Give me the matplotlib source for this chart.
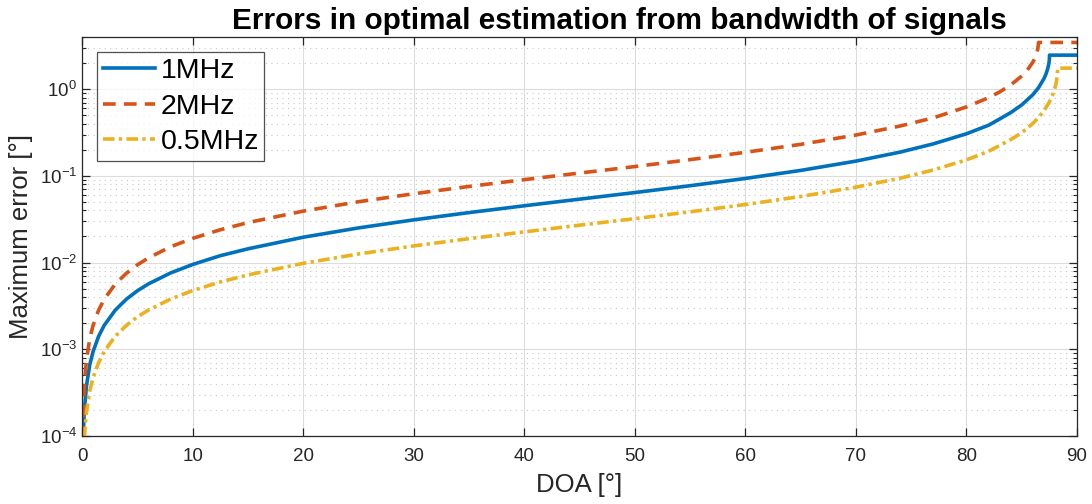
import math
import matplotlib
matplotlib.use("Agg")
import matplotlib.pyplot as plt
from matplotlib.ticker import LogLocator, FixedLocator, NullFormatter, FuncFormatter

# ---- data ----
doa_1mhz = [0.1, 0.2, 0.4, 0.7, 1, 1.5, 2, 3, 4, 5, 6, 8, 10, 12.5, 15, 20, 25, 30, 35,
            40, 45, 50, 55, 60, 65, 70, 74, 77, 80, 82, 83, 84, 85, 86, 86.5, 87, 87.2,
            87.35, 87.45, 87.5, 87.51, 90]
err_1mhz = [9.4e-5, 1.88e-4, 3.76e-4, 6.6e-4, 9.4e-4, 1.41e-3, 1.88e-3, 2.82e-3, 3.77e-3,
            4.72e-3, 5.67e-3, 7.58e-3, 9.5e-3, 0.0120, 0.0144, 0.0196, 0.0251, 0.0311,
            0.0377, 0.0452, 0.0539, 0.0642, 0.0770, 0.0934, 0.1156, 0.148, 0.188, 0.234,
            0.306, 0.384, 0.453, 0.537, 0.659, 0.863, 1.033, 1.318, 1.506, 1.726, 1.971,
            2.21, 2.47, 2.47]

doa_2mhz = [0.05, 0.1, 0.2, 0.4, 0.7, 1, 1.5, 2, 3, 4, 5, 6, 8, 10, 12.5, 15, 20, 25, 30,
            35, 40, 45, 50, 55, 60, 65, 70, 74, 77, 80, 82, 83, 84, 85, 85.5, 86, 86.2,
            86.35, 86.45, 86.5, 86.52, 90]
err_2mhz = [9.4e-5, 1.88e-4, 3.76e-4, 7.5e-4, 1.32e-3, 1.88e-3, 2.82e-3, 3.76e-3, 5.64e-3,
            7.5e-3, 9.4e-3, 0.0113, 0.0152, 0.0190, 0.0239, 0.0289, 0.0392, 0.0503,
            0.0622, 0.0755, 0.0905, 0.1078, 0.128, 0.154, 0.187, 0.231, 0.296, 0.376,
            0.467, 0.624, 0.798, 0.929, 1.117, 1.42, 1.659, 2.047, 2.299, 2.587, 2.907,
            3.27, 3.46, 3.46]

doa_05mhz = [0.2, 0.4, 0.7, 1, 1.5, 2, 3, 4, 5, 6, 8, 10, 12.5, 15, 20, 25, 30, 35, 40,
             45, 50, 55, 60, 65, 70, 74, 77, 80, 82, 84, 85, 86, 86.5, 87, 87.5, 87.8,
             88.0, 88.1, 88.2, 88.25, 90]
err_05mhz = [9.4e-5, 1.88e-4, 3.3e-4, 4.7e-4, 7.0e-4, 9.4e-4, 1.41e-3, 1.88e-3, 2.36e-3,
             2.83e-3, 3.79e-3, 4.75e-3, 5.97e-3, 7.2e-3, 9.8e-3, 0.01256, 0.01556,
             0.01887, 0.0226, 0.0270, 0.0321, 0.0385, 0.0467, 0.0578, 0.0741, 0.094,
             0.117, 0.153, 0.192, 0.262, 0.315, 0.402, 0.468, 0.562, 0.713, 0.866, 1.031,
             1.157, 1.379, 1.75, 1.75]

labels = ["1MHz", "2MHz", "0.5MHz"]
x_ticks = [0, 10, 20, 30, 40, 50, 60, 70, 80, 90]

plt.rcParams['font.family'] = ['Liberation Sans', 'DejaVu Sans']
plt.rcParams['mathtext.default'] = 'regular'

fig = plt.figure(figsize=(10.92, 5.04), dpi=100)
ax = fig.add_axes([0.0751, 0.135, 0.9112, 0.7916])

c_blue = '#0072BD'
c_red = '#D95319'
c_yel = '#EDB120'
lw = 2.6
ax.plot(doa_1mhz, err_1mhz, color=c_blue, lw=lw, label=labels[0])
ax.plot(doa_2mhz, err_2mhz, color=c_red, lw=lw, dashes=(3.5, 2.3), label=labels[1])
ax.plot(doa_05mhz, err_05mhz, color=c_yel, lw=lw, dashes=(3.2, 1.2, 0.9, 1.2),
        label=labels[2])

ax.set_yscale('log')
ax.set_xlim(0, 90)
ax.set_ylim(1e-4, 4.0)
ax.xaxis.set_major_locator(FixedLocator(x_ticks))
ax.yaxis.set_major_locator(LogLocator(base=10, numticks=20))
ax.yaxis.set_minor_locator(LogLocator(base=10, subs=range(2, 10), numticks=20))
ax.yaxis.set_minor_formatter(NullFormatter())


def fmt(v, pos):
    e = int(round(math.log10(v)))
    return r'$10^{%d}$' % e


ax.yaxis.set_major_formatter(FuncFormatter(fmt))

edge = '#262626'
for s in ax.spines.values():
    s.set_color(edge)
    s.set_linewidth(0.9)
ax.tick_params(which='both', direction='in', top=True, right=True, colors=edge,
               labelcolor='#262626', labelsize=13.5)
ax.tick_params(which='major', length=6, width=0.9)
ax.tick_params(which='minor', length=3, width=0.8)
ax.tick_params(axis='x', which='minor', bottom=False, top=False)
ax.tick_params(axis='x', which='major', pad=8.5)

ax.grid(True, which='major', color='#dcdcdc', lw=0.8, ls='-')
ax.grid(True, which='minor', axis='y', color='#c8c8c8', lw=0.8, ls=(0, (1, 4)))
ax.set_axisbelow(True)

ax.set_xlabel('DOA [°]', fontsize=18.5, color='#262626', labelpad=6)
ax.set_ylabel('Maximum error [°]', fontsize=18.5, color='#262626', labelpad=5)
ax.set_title('Errors in optimal estimation from bandwidth of signals', fontsize=21.4,
             fontweight='bold', pad=6, x=0.54)

leg = ax.legend(loc='upper left', bbox_to_anchor=(0.015, 0.962), borderaxespad=0,
                fontsize=20.5, handlelength=1.85, handletextpad=0.18, labelspacing=0.34,
                frameon=True, fancybox=False, borderpad=0.2)
leg.get_frame().set_edgecolor('#262626')
leg.get_frame().set_linewidth(0.9)

fig.savefig('out.png', dpi=100)
